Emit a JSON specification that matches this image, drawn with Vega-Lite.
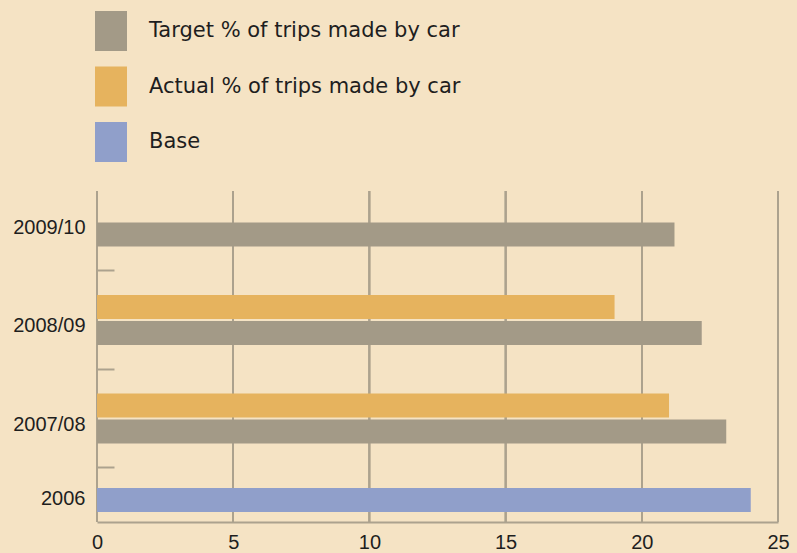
{
  "$schema": "https://vega.github.io/schema/vega-lite/v6.json",
  "width": 681,
  "height": 331,
  "autosize": {"type": "none"},
  "padding": {"left": 97, "top": 191, "right": 19, "bottom": 31},
  "background": "#f5e3c4",
  "config": {
    "view": {"stroke": null},
    "font": "Liberation Sans",
    "axis": {"labelFont": "Liberation Sans"},
    "legend": {"labelFont": "DejaVu Sans"}
  },
  "data": {
    "values": [
      {"year": "2009/10", "series": "Target % of trips made by car", "value": 21.2},
      {"year": "2008/09", "series": "Actual % of trips made by car", "value": 19.0},
      {"year": "2008/09", "series": "Target % of trips made by car", "value": 22.2},
      {"year": "2007/08", "series": "Actual % of trips made by car", "value": 21.0},
      {"year": "2007/08", "series": "Target % of trips made by car", "value": 23.1},
      {"year": "2006", "series": "Base", "value": 24.0}
    ]
  },
  "layer": [
    {"mark": {"type": "rule", "color": "#aca28e", "strokeWidth": 1.5}, "encoding": {"x": {"datum": 0}}},
    {"mark": {"type": "rule", "color": "#aca28e", "strokeWidth": 1.5}, "encoding": {"x": {"datum": 5}}},
    {"mark": {"type": "rule", "color": "#aca28e", "strokeWidth": 1.5}, "encoding": {"x": {"datum": 10}}},
    {"mark": {"type": "rule", "color": "#aca28e", "strokeWidth": 1.5}, "encoding": {"x": {"datum": 15}}},
    {"mark": {"type": "rule", "color": "#aca28e", "strokeWidth": 1.5}, "encoding": {"x": {"datum": 20}}},
    {"mark": {"type": "rule", "color": "#aca28e", "strokeWidth": 1.5}, "encoding": {"x": {"datum": 25}}},
    {
      "encoding": {
        "y": {
          "field": "year",
          "type": "nominal",
          "sort": ["2009/10", "2008/09", "2007/08", "2006"],
          "scale": {"range": [-18.75, 375.25], "paddingInner": 0, "paddingOuter": 0},
          "axis": {
            "title": null,
            "domain": false,
            "grid": false,
            "bandPosition": 0,
            "tickSize": -17,
            "tickWidth": 2,
            "tickColor": "#aca28e",
            "tickOpacity": {"condition": {"test": "datum.value === '2009/10'", "value": 0}, "value": 1},
            "labelPadding": 29,
            "labelOffset": {"condition": {"test": "datum.value === '2006'", "value": -18}, "value": 6},
            "labelFontSize": 20,
            "labelColor": "#1e1e1e"
          }
        },
        "x": {
          "field": "value",
          "type": "quantitative",
          "scale": {"domain": [0, 25], "nice": false},
          "axis": {
            "title": null,
            "values": [0, 5, 10, 15, 20, 25],
            "grid": false,
            "domainColor": "#aca28e",
            "domainWidth": 2,
            "ticks": false,
            "labelPadding": 10,
            "labelFontSize": 20,
            "labelFlush": false,
            "labelColor": "#1e1e1e"
          }
        },
        "color": {
          "field": "series",
          "type": "nominal",
          "scale": {
            "domain": ["Target % of trips made by car", "Actual % of trips made by car", "Base"],
            "range": ["#a39a87", "#e6b35e", "#909fca"]
          },
          "legend": {
            "title": null,
            "orient": "none",
            "legendX": -6,
            "legendY": -180,
            "padding": 0,
            "symbolType": "M-0.8,-1H0.8V1H-0.8Z",
            "symbolSize": 1600,
            "symbolStrokeWidth": 0,
            "symbolOpacity": 1,
            "labelFontSize": 21,
            "labelOffset": 18,
            "rowPadding": 15.5,
            "labelColor": "#1e1e1e",
            "labelLimit": 500
          }
        }
      },
      "layer": [
        {
          "transform": [{"filter": "datum.series === 'Target % of trips made by car'"}],
          "mark": {"type": "bar", "height": 24, "yOffset": 13}
        },
        {
          "transform": [{"filter": "datum.series === 'Actual % of trips made by car'"}],
          "mark": {"type": "bar", "height": 24, "yOffset": -13}
        },
        {
          "transform": [{"filter": "datum.series === 'Base'"}],
          "mark": {"type": "bar", "height": 24, "yOffset": -17}
        }
      ]
    }
  ]
}
